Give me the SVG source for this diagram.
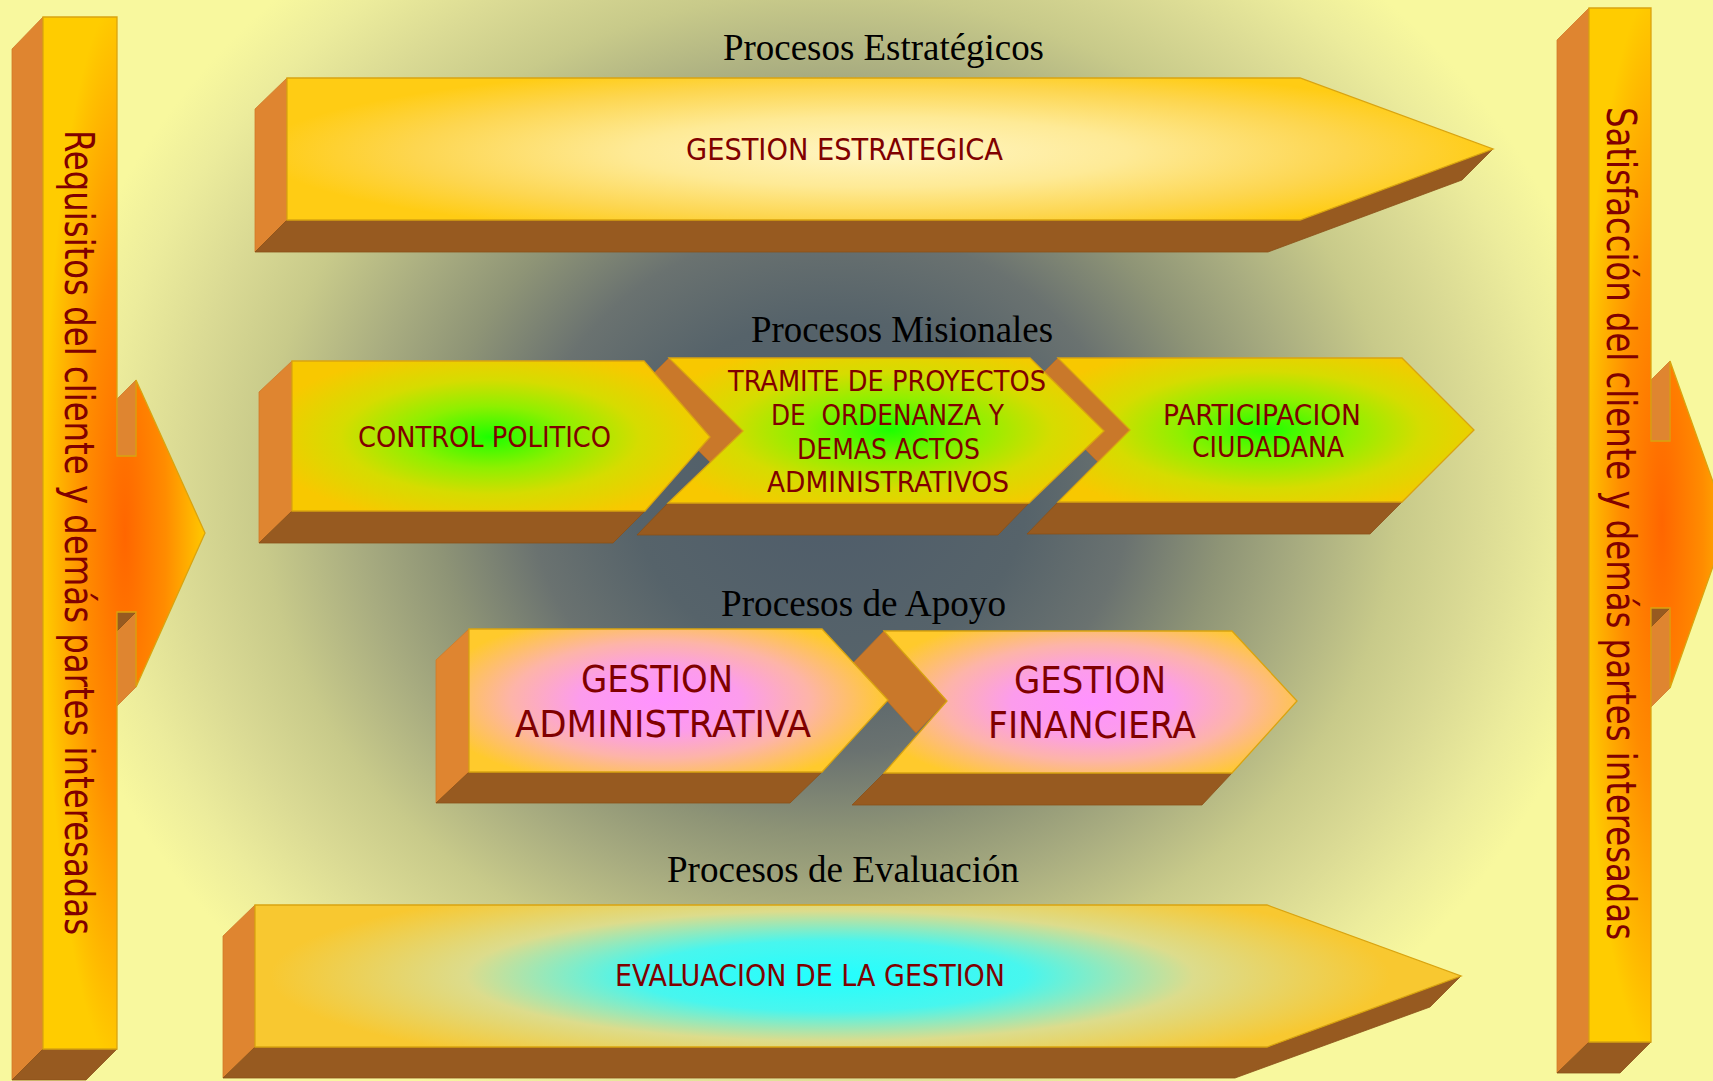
<svg xmlns="http://www.w3.org/2000/svg" width="1713" height="1081" viewBox="0 0 1713 1081">
<style>
.side{fill:#DF8530;stroke:#D07A28;stroke-width:0.8}
.notch{fill:#C9782A;stroke:#B86E26;stroke-width:0.8}
.base{fill:#975A20;stroke:#8A5018;stroke-width:0.8}
.front{stroke:#D9A410;stroke-width:1.3}
.title{font-family:"Liberation Serif","Times New Roman",serif;font-size:37px;fill:#000}
.lbl{font-family:"DejaVu Sans",Tahoma,sans-serif;font-stretch:condensed;fill:#800000}
.s28{font-size:28px}.s30{font-size:30px}.s37{font-size:37px}.s41{font-size:41px}
</style>
<defs>
<radialGradient id="bg" gradientUnits="userSpaceOnUse" cx="0" cy="0" r="1" gradientTransform="translate(830 490) scale(790 690)">
<stop offset="0" stop-color="#4E5C6A"/>
<stop offset="0.25" stop-color="#56636A"/>
<stop offset="0.38" stop-color="#6A7270"/>
<stop offset="0.5" stop-color="#8E9476"/>
<stop offset="0.6" stop-color="#A8AC80"/>
<stop offset="0.72" stop-color="#C8CA8A"/>
<stop offset="0.82" stop-color="#DADA94"/>
<stop offset="0.92" stop-color="#ECEC9C"/>
<stop offset="1" stop-color="#F8F89E"/>
</radialGradient>
<radialGradient id="gL" gradientUnits="userSpaceOnUse" cx="0" cy="0" r="1" gradientTransform="translate(125 534) scale(82 540)">
<stop offset="0" stop-color="#FF6600"/>
<stop offset="0.5" stop-color="#FF8C00"/>
<stop offset="1" stop-color="#FFCC00"/>
</radialGradient>
<radialGradient id="gR" gradientUnits="userSpaceOnUse" cx="0" cy="0" r="1" gradientTransform="translate(1662 524) scale(82 540)">
<stop offset="0" stop-color="#FF6600"/>
<stop offset="0.5" stop-color="#FF8C00"/>
<stop offset="1" stop-color="#FFCC00"/>
</radialGradient>
<radialGradient id="gTop" gradientUnits="userSpaceOnUse" cx="0" cy="0" r="1" gradientTransform="translate(880 152) scale(620 88)">
<stop offset="0" stop-color="#FFF6C4"/>
<stop offset="0.4" stop-color="#FEEA96"/>
<stop offset="0.75" stop-color="#FDD650"/>
<stop offset="1" stop-color="#FFCC14"/>
</radialGradient>
<radialGradient id="gG1" gradientUnits="userSpaceOnUse" cx="0" cy="0" r="1" gradientTransform="translate(490 437) scale(230 88)">
<stop offset="0" stop-color="#1CFF00"/>
<stop offset="0.35" stop-color="#8EF000"/>
<stop offset="0.65" stop-color="#D6DC00"/>
<stop offset="1" stop-color="#F8C800"/>
</radialGradient>
<radialGradient id="gG2" gradientUnits="userSpaceOnUse" cx="0" cy="0" r="1" gradientTransform="translate(890 430) scale(250 90)">
<stop offset="0" stop-color="#1CFF00"/>
<stop offset="0.35" stop-color="#8EF000"/>
<stop offset="0.65" stop-color="#D6DC00"/>
<stop offset="1" stop-color="#F8C800"/>
</radialGradient>
<radialGradient id="gG3" gradientUnits="userSpaceOnUse" cx="0" cy="0" r="1" gradientTransform="translate(1265 430) scale(240 90)">
<stop offset="0" stop-color="#1CFF00"/>
<stop offset="0.35" stop-color="#8EF000"/>
<stop offset="0.65" stop-color="#D6DC00"/>
<stop offset="1" stop-color="#F8C800"/>
</radialGradient>
<radialGradient id="gP1" gradientUnits="userSpaceOnUse" cx="0" cy="0" r="1" gradientTransform="translate(660 700) scale(230 90)">
<stop offset="0" stop-color="#FF92FF"/>
<stop offset="0.35" stop-color="#FC9CEC"/>
<stop offset="0.65" stop-color="#FDB4A8"/>
<stop offset="1" stop-color="#FFCA2C"/>
</radialGradient>
<radialGradient id="gP2" gradientUnits="userSpaceOnUse" cx="0" cy="0" r="1" gradientTransform="translate(1092 702) scale(230 90)">
<stop offset="0" stop-color="#FF92FF"/>
<stop offset="0.35" stop-color="#FC9CEC"/>
<stop offset="0.65" stop-color="#FDB4A8"/>
<stop offset="1" stop-color="#FFCA2C"/>
</radialGradient>
<radialGradient id="gC" gradientUnits="userSpaceOnUse" cx="0" cy="0" r="1" gradientTransform="translate(830 976) scale(560 100)">
<stop offset="0" stop-color="#22FFFF"/>
<stop offset="0.35" stop-color="#48F6EE"/>
<stop offset="0.65" stop-color="#DCDC8C"/>
<stop offset="1" stop-color="#F8C830"/>
</radialGradient>
</defs>

<rect x="0" y="0" width="1713" height="1081" fill="url(#bg)"/>

<g id="connectors"></g>

<g id="bar-requisitos">
<polygon class="side" points="12,49 43,17 43,1049 12,1080"/>
<polygon class="base" points="43,1049 117,1049 86,1080 12,1080"/>
<polygon class="side" points="117,399 136,380 136,456 117,456"/>
<polygon class="side" points="117,631 136,612 136,687 117,706"/>
<polygon class="base" points="117,612 136,612 117,631"/>
<path class="front" fill="url(#gL)" d="M43,17 H117 V456 H136 V380 L205,533 L136,687 V612 H117 V1049 H43 Z"/>
<text class="lbl s41" transform="translate(65 130) rotate(90)" x="0" y="0" textLength="805" lengthAdjust="spacingAndGlyphs">Requisitos del cliente y demás partes interesadas</text>
</g>

<g id="bar-satisfaccion">
<polygon class="side" points="1557,40 1589,8 1589,1042 1557,1073"/>
<polygon class="base" points="1589,1042 1651,1042 1620,1073 1557,1073"/>
<polygon class="side" points="1651,380 1670,361 1670,441 1651,441"/>
<polygon class="side" points="1651,627 1670,608 1670,688 1651,707"/>
<polygon class="base" points="1651,608 1670,608 1651,627"/>
<path class="front" fill="url(#gR)" d="M1589,8 H1651 V441 H1670 V361 L1728,524 L1670,688 V608 H1651 V1042 H1589 Z"/>
<text class="lbl s41" transform="translate(1607 107) rotate(90)" x="0" y="0" textLength="833" lengthAdjust="spacingAndGlyphs">Satisfacción del cliente y demás partes interesadas</text>
</g>

<g id="titles">
<text class="title" x="723" y="60" textLength="321" lengthAdjust="spacingAndGlyphs">Procesos Estratégicos</text>
<text class="title" x="751" y="342" textLength="302" lengthAdjust="spacingAndGlyphs">Procesos Misionales</text>
<text class="title" x="721" y="616" textLength="285" lengthAdjust="spacingAndGlyphs">Procesos de Apoyo</text>
<text class="title" x="667" y="882" textLength="352" lengthAdjust="spacingAndGlyphs">Procesos de Evaluación</text>
</g>

<g id="gestion-estrategica">
<polygon class="side" points="255,109 287,78 287,220 255,252"/>
<polygon class="base" points="287,220 1300,220 1493,149 1462,180 1268,252 255,252"/>
<polygon class="front" fill="url(#gTop)" points="287,78 1300,78 1493,149 1300,220 287,220"/>
<text class="lbl s30" x="686" y="160" textLength="317" lengthAdjust="spacingAndGlyphs">GESTION ESTRATEGICA</text>
</g>

<g id="participacion-ciudadana">
<polygon class="notch" points="1058,358 1130,430 1098,462 1026,390"/>
<polygon class="base" points="1058,502 1402,502 1370,534 1027,534"/>
<polygon class="front" fill="url(#gG3)" points="1058,358 1402,358 1474,430 1402,502 1058,502 1130,430"/>
<text class="lbl s28" x="1163" y="425" textLength="198" lengthAdjust="spacingAndGlyphs">PARTICIPACION</text>
<text class="lbl s28" x="1192" y="457" textLength="152" lengthAdjust="spacingAndGlyphs">CIUDADANA</text>
</g>

<g id="tramite-proyectos">
<polygon class="notch" points="669,358 743,431 711,463 637,390"/>
<polygon class="base" points="668,503 1029,503 998,535 637,535"/>
<polygon class="front" fill="url(#gG2)" points="669,358 1030,358 1104,431 1029,503 668,503 743,431"/>
<text class="lbl s28" x="728" y="391" textLength="318" lengthAdjust="spacingAndGlyphs">TRAMITE DE PROYECTOS</text>
<text class="lbl s28" x="771" y="425" textLength="233" lengthAdjust="spacingAndGlyphs" xml:space="preserve">DE  ORDENANZA Y</text>
<text class="lbl s28" x="797" y="459" textLength="183" lengthAdjust="spacingAndGlyphs">DEMAS ACTOS</text>
<text class="lbl s28" x="767" y="492" textLength="242" lengthAdjust="spacingAndGlyphs">ADMINISTRATIVOS</text>
</g>

<g id="control-politico">
<polygon class="side" points="259,392 292,361 292,511 259,543"/>
<polygon class="base" points="292,511 645,511 613,543 259,543"/>
<polygon class="front" fill="url(#gG1)" points="292,361 644,361 710,437 645,511 292,511"/>
<text class="lbl s28" x="358" y="447" textLength="253" lengthAdjust="spacingAndGlyphs">CONTROL POLITICO</text>
</g>

<g id="gestion-financiera">
<polygon class="notch" points="884,631 947,701 916,733 853,663"/>
<polygon class="base" points="884,773 1232,773 1202,805 852,805"/>
<polygon class="front" fill="url(#gP2)" points="884,631 1232,631 1297,701 1232,773 884,773 947,701"/>
<text class="lbl s37" x="1014" y="693" textLength="152" lengthAdjust="spacingAndGlyphs">GESTION</text>
<text class="lbl s37" x="988" y="738" textLength="208" lengthAdjust="spacingAndGlyphs">FINANCIERA</text>
</g>

<g id="gestion-administrativa">
<polygon class="side" points="436,660 469,629 469,772 436,803"/>
<polygon class="base" points="469,772 822,772 790,803 436,803"/>
<polygon class="front" fill="url(#gP1)" points="469,629 822,629 888,700 822,772 469,772"/>
<text class="lbl s37" x="581" y="692" textLength="152" lengthAdjust="spacingAndGlyphs">GESTION</text>
<text class="lbl s37" x="515" y="737" textLength="296" lengthAdjust="spacingAndGlyphs">ADMINISTRATIVA</text>
</g>

<g id="evaluacion-gestion">
<polygon class="side" points="223,936 255,905 255,1047 223,1078"/>
<polygon class="base" points="255,1047 1267,1047 1461,976 1430,1007 1235,1078 223,1078"/>
<polygon class="front" fill="url(#gC)" points="255,905 1267,905 1461,976 1267,1047 255,1047"/>
<text class="lbl s30" x="615" y="986" textLength="390" lengthAdjust="spacingAndGlyphs">EVALUACION DE LA GESTION</text>
</g>
</svg>
